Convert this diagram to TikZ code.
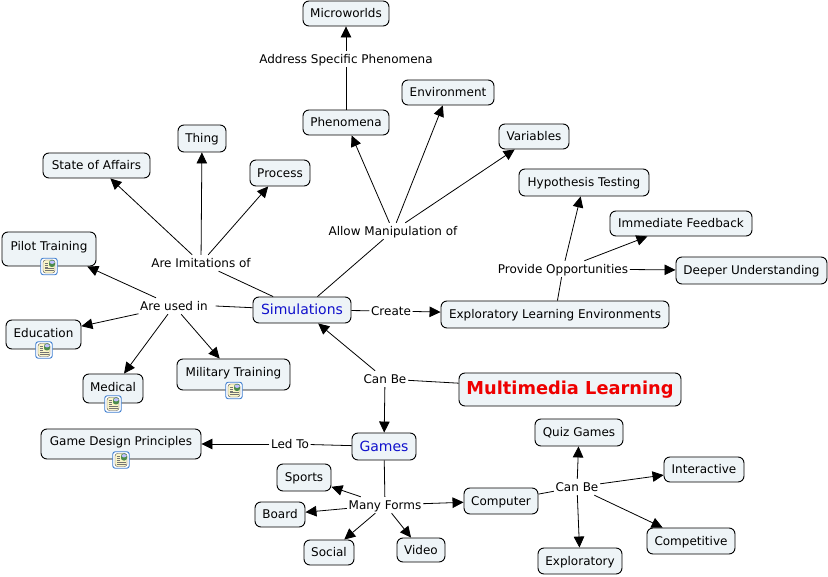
\documentclass[tikz,border=0pt]{standalone}
\usepackage{fontspec}
\setmainfont{DejaVu Sans}
\usetikzlibrary{arrows.meta}
\definecolor{conceptfill}{HTML}{EEF4F7}
\definecolor{iconblue}{HTML}{3F7FD0}
\definecolor{iconpage}{HTML}{FBF6C8}
\definecolor{titlered}{HTML}{EE0000}
\definecolor{linkblue}{HTML}{1010CC}
\tikzset{
  concept/.style={draw=black,line width=0.9pt,fill=conceptfill,rounded corners=6pt,shape=rectangle,inner sep=0pt,
    text height=10pt,text depth=1.5pt,font=\fontsize{12}{14}\selectfont},
  iconbox/.style 2 args={concept,text height=#1,text depth=#2},
  bigconcept/.style={concept,text height=11pt,text depth=1pt},
  linking/.style={inner xsep=1.5pt,inner ysep=1.5pt,font=\fontsize{12}{14}\selectfont,text height=11pt,text depth=2pt},
  plain/.style={draw=black,line width=0.8pt},
  arrowed/.style={plain,-{Triangle[length=11pt,width=10.5pt]}},
  resicon/.style={draw=iconblue,line width=0.9pt,fill=white,rounded corners=2.5pt,minimum size=16.5pt,inner sep=0pt,
    path picture={
      \fill[iconpage] (path picture bounding box.center) ++(-6pt,-6.5pt) rectangle ++(12pt,13pt);
      \draw[black!70,line width=0.4pt] (path picture bounding box.center) ++(-6pt,-6.5pt) rectangle ++(12pt,13pt);
      \fill[green!35!black!70] (path picture bounding box.center) ++(0pt,6.5pt) rectangle ++(6pt,-7pt);
      \fill[blue!25!white] (path picture bounding box.center) ++(0.6pt,6pt) rectangle ++(5pt,-3.5pt);
      \foreach \linepos in {-2,-4}{
        \draw[black!55,line width=0.35pt] ([yshift=\linepos pt]path picture bounding box.center) ++(-4.5pt,0pt) -- ++(9pt,0pt);}
      \foreach \linepos in {3.5,1.5,-0.3}{
        \draw[black!55,line width=0.35pt] ([yshift=\linepos pt]path picture bounding box.center) ++(-4.5pt,0pt) -- ++(3.5pt,0pt);}
    }}
}

\begin{document}
\begin{tikzpicture}[x=1pt,y=-1pt]
  \useasboundingbox[fill=white] (0,0) rectangle (828,577);

  % concepts
  \node[concept,minimum width=86pt,minimum height=25pt] (microworlds) at (346,13.5) {Microworlds};
  \node[concept,minimum width=92pt,minimum height=25pt] (environment) at (448,92.5) {Environment};
  \node[concept,minimum width=86pt,minimum height=25pt] (phenomena) at (346,122.5) {Phenomena};
  \node[concept,minimum width=70pt,minimum height=25pt] (variables) at (534,136.5) {Variables};
  \node[concept,minimum width=48pt,minimum height=27pt] (thing) at (202,138.5) {Thing};
  \node[concept,minimum width=107pt,minimum height=25pt] (affairs) at (96.5,165.5) {State of Affairs};
  \node[concept,minimum width=60pt,minimum height=26pt] (process) at (280,173) {Process};
  \node[concept,minimum width=130pt,minimum height=27pt] (hypothesis) at (584,182.5) {Hypothesis Testing};
  \node[concept,minimum width=142pt,minimum height=25pt] (feedback) at (681,223.5) {Immediate Feedback};
  \node[concept,minimum width=151pt,minimum height=27pt] (understanding) at (751.5,270.5) {Deeper Understanding};
  \node[iconbox={19pt}{15pt},minimum width=94pt] (pilot) at (49,249) {Pilot Training};
  \node[iconbox={18pt}{11pt},minimum width=75pt] (education) at (43.5,334.5) {Education};
  \node[iconbox={18pt}{11pt},minimum width=60pt] (medical) at (113,388.5) {Medical};
  \node[iconbox={18pt}{13pt},minimum width=113pt] (military) at (233.5,374.5) {Military Training};
  \node[bigconcept,minimum width=98pt,minimum height=26pt,text=linkblue,font=\fontsize{14}{16}\selectfont] (simulations) at (302,310) {Simulations};
  \node[concept,minimum width=228pt,minimum height=27pt] (explore) at (555,314.5) {Exploratory Learning Environments};
  \node[bigconcept,minimum width=222pt,minimum height=33pt,text=titlered,font=\fontsize{17.8}{20}\bfseries\selectfont] (multimedia) at (570,389.5) {Multimedia Learning};
  \node[bigconcept,minimum width=64pt,minimum height=27pt,text=linkblue,font=\fontsize{14}{16}\selectfont] (games) at (384,446.5) {Games};
  \node[iconbox={17pt}{13pt},minimum width=160pt] (design) at (121,444) {Game Design Principles};
  \node[concept,minimum width=88pt,minimum height=27pt] (quiz) at (579,432.5) {Quiz Games};
  \node[concept,minimum width=80pt,minimum height=25pt] (interactive) at (704,469.5) {Interactive};
  \node[concept,minimum width=74pt,minimum height=26pt] (computer) at (501,501) {Computer};
  \node[concept,minimum width=54pt,minimum height=27pt] (sports) at (304,477.5) {Sports};
  \node[concept,minimum width=50pt,minimum height=25pt] (board) at (280,514.5) {Board};
  \node[concept,minimum width=50pt,minimum height=25pt] (social) at (329,552.5) {Social};
  \node[concept,minimum width=48pt,minimum height=24pt] (video) at (421,550) {Video};
  \node[concept,minimum width=88pt,minimum height=26pt] (competitive) at (691,541) {Competitive};
  \node[concept,minimum width=84pt,minimum height=26pt] (exploratory) at (580,561) {Exploratory};

  % document icons
  \node[resicon] (iconpilot) at (49,266.5) {};
  \node[resicon] (iconeducation) at (44,350) {};
  \node[resicon] (iconmedical) at (113,404) {};
  \node[resicon] (iconmilitary) at (234,390.5) {};
  \node[resicon] (icondesign) at (121,460) {};

  % linking phrases
  \node[linking] (address) at (346,59) {Address Specific Phenomena};
  \node[linking] (allow) at (393,231) {Allow Manipulation of};
  \node[linking] (imitations) at (201,263) {Are Imitations of};
  \node[linking] (usedin) at (174,306) {Are used in};
  \node[linking] (create) at (391,311) {Create};
  \node[linking] (provide) at (563,269) {Provide Opportunities};
  \node[linking] (canbetop) at (385,379) {Can Be};
  \node[linking] (ledto) at (290,444) {Led To};
  \node[linking] (manyforms) at (385,505) {Many Forms};
  \node[linking] (canbelow) at (577,487) {Can Be};

  % connectors
  \draw[plain] (phenomena) -- (address);
  \draw[arrowed] (address) -- (microworlds);
  \draw[plain] (simulations) -- (allow);
  \foreach \target in {phenomena,environment,variables}
    \draw[arrowed] (allow) -- (\target);
  \draw[plain] (simulations) -- (imitations);
  \foreach \target in {affairs,thing,process}
    \draw[arrowed] (imitations) -- (\target);
  \draw[plain] (simulations) -- ([xshift=6pt]usedin.east);
  \foreach \target in {pilot,education,medical,military}
    \draw[arrowed] (usedin) -- (\target);
  \draw[plain] (simulations) -- (create);
  \draw[arrowed] (create) -- (explore);
  \draw[plain] (explore) -- (provide);
  \foreach \target in {hypothesis,feedback,understanding}
    \draw[arrowed] (provide) -- (\target);
  \draw[plain] (multimedia) -- (canbetop);
  \foreach \target in {simulations,games}
    \draw[arrowed] (canbetop) -- (\target);
  \draw[plain] (games) -- (ledto);
  \draw[arrowed] (ledto) -- (design);
  \draw[plain] (games) -- (manyforms);
  \foreach \target in {sports,board,social,video,computer}
    \draw[arrowed] (manyforms) -- (\target);
  \draw[plain] (computer) -- (canbelow);
  \foreach \target in {quiz,interactive,competitive,exploratory}
    \draw[arrowed] (canbelow) -- (\target);
\end{tikzpicture}
\end{document}
